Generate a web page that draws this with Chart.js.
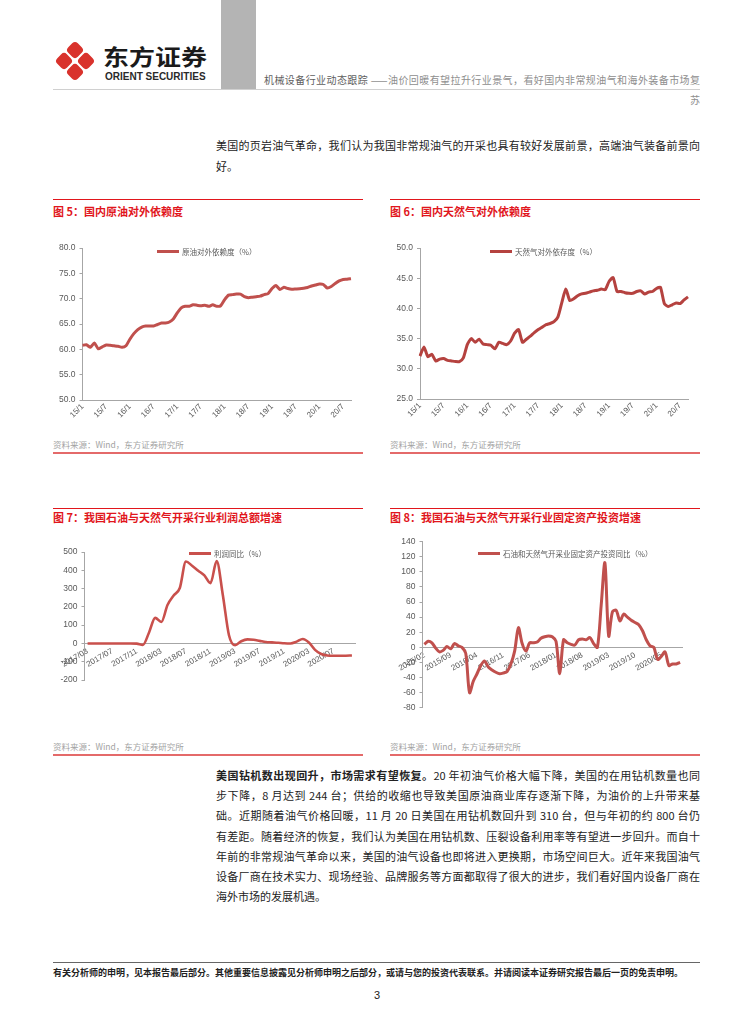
<!DOCTYPE html>
<html>
<head>
<meta charset="utf-8">
<script src="https://cdn.jsdelivr.net/npm/chart.js@4.4.1/dist/chart.umd.min.js"></script>
<style>
html,body{margin:0;padding:0;background:#fff;}
#page{position:relative;width:754px;height:1024px;overflow:hidden;font-family:"Noto Sans CJK SC","Noto Sans",sans-serif;color:#222;}
.abs{position:absolute;}
.pl{position:absolute;left:216px;width:484px;font-size:11px;line-height:20.2px;height:20.2px;text-align:justify;text-align-last:justify;color:#222;}
.pl.last{text-align-last:left;}
.ftitle{position:absolute;font-size:11px;line-height:14px;font-weight:bold;color:#e1161c;white-space:nowrap;}
.tline{position:absolute;height:1px;background:#e1161c;width:310px;}
.src{position:absolute;font-size:8.5px;line-height:12px;color:#a3a3a3;white-space:nowrap;}
.sline{position:absolute;height:1.5px;background:#e46a6a;width:310px;}
.legend{position:absolute;font-size:7.5px;line-height:10px;color:#595959;white-space:nowrap;}
.legend i{display:inline-block;width:22px;height:3px;vertical-align:middle;margin-right:3px;margin-top:-2px;}
canvas{position:absolute;}
</style>
</head>
<body>
<div id="page">
  <!-- header -->
  <div class="abs" style="left:221px;top:0;width:35px;height:89px;background:#b4b4b4;"></div>
  <div class="abs" style="left:53px;top:89px;width:647px;height:1px;background:#d0d0d0;"></div>
  <svg class="abs" style="left:53px;top:39px" width="44" height="44" viewBox="0 0 44 44">
    <g transform="rotate(45 22 22)" fill="#d9322c">
      <rect x="7.5" y="7.5" width="13.5" height="13.5" rx="4"/>
      <rect x="23" y="7.5" width="13.5" height="13.5" rx="4"/>
      <rect x="7.5" y="23" width="13.5" height="13.5" rx="4"/>
      <rect x="23" y="23" width="13.5" height="13.5" rx="4"/>
    </g>
  </svg>
  <div class="abs" style="left:103px;top:42px;font-size:22px;line-height:26px;font-weight:bold;color:#1a1a1a;white-space:nowrap;transform:scale(1.18,1);transform-origin:0 0;">东方证券</div>
  <div class="abs" style="left:105px;top:71px;font-family:'Liberation Sans',Arial,sans-serif;font-size:10px;line-height:12px;font-weight:bold;color:#2a2a2a;white-space:nowrap;">ORIENT SECURITIES</div>
  <div class="abs" style="left:264px;top:73px;width:436px;font-size:10px;line-height:14px;color:#8e8e8e;text-align:justify;text-align-last:justify;"><span style="color:#5e5e5e">机械设备行业动态跟踪</span> ——油价回暖有望拉升行业景气，看好国内非常规油气和海外装备市场复</div>
  <div class="abs" style="left:680px;top:93px;width:20px;text-align:right;font-size:10px;line-height:14px;color:#8e8e8e;">苏</div>

  <!-- top paragraph -->
  <div class="pl" style="top:134.5px;line-height:21px;height:21px;">美国的页岩油气革命，我们认为我国非常规油气的开采也具有较好发展前景，高端油气装备前景向</div>
  <div class="pl last" style="top:155.5px;line-height:21px;height:21px;">好。</div>

  <!-- figure 5 / 6 titles -->
  <div class="tline" style="left:53px;top:199px;"></div>
  <div class="tline" style="left:390px;top:199px;"></div>
  <div class="ftitle" style="left:53px;top:204px;">图 5：国内原油对外依赖度</div>
  <div class="ftitle" style="left:390px;top:204px;">图 6：国内天然气对外依赖度</div>

  <canvas id="c5" width="320" height="190" style="left:40px;top:236px;width:320px;height:190px;"></canvas>
  <canvas id="c6" width="320" height="190" style="left:385px;top:236px;width:320px;height:190px;"></canvas>
  <div class="legend" id="lg5" style="left:157px;top:247px;"></div>
  <div class="legend" id="lg6" style="left:490px;top:247px;"></div>

  <div class="src" style="left:53px;top:438px;">资料来源：Wind，东方证券研究所</div>
  <div class="src" style="left:390px;top:438px;">资料来源：Wind，东方证券研究所</div>
  <div class="sline" style="left:53px;top:452px;"></div>
  <div class="sline" style="left:390px;top:452px;"></div>

  <!-- figure 7 / 8 titles -->
  <div class="tline" style="left:53px;top:508px;"></div>
  <div class="tline" style="left:390px;top:508px;"></div>
  <div class="ftitle" style="left:53px;top:510px;">图 7：我国石油与天然气开采行业利润总额增速</div>
  <div class="ftitle" style="left:390px;top:510px;">图 8：我国石油与天然气开采行业固定资产投资增速</div>

  <canvas id="c7" width="320" height="160" style="left:40px;top:540px;width:320px;height:160px;"></canvas>
  <canvas id="c8" width="320" height="190" style="left:385px;top:530px;width:320px;height:190px;"></canvas>
  <div class="legend" id="lg7" style="left:189px;top:549px;"></div>
  <div class="legend" id="lg8" style="left:478px;top:549px;"></div>

  <div class="src" style="left:53px;top:740px;">资料来源：Wind，东方证券研究所</div>
  <div class="src" style="left:390px;top:740px;">资料来源：Wind，东方证券研究所</div>
  <div class="sline" style="left:53px;top:754px;"></div>
  <div class="sline" style="left:390px;top:754px;"></div>

  <!-- body paragraph -->
  <div class="pl" style="top:765px;"><b>美国钻机数出现回升，市场需求有望恢复。</b>20 年初油气价格大幅下降，美国的在用钻机数量也同</div>
  <div class="pl" style="top:785.2px;">步下降，8 月达到 244 台；供给的收缩也导致美国原油商业库存逐渐下降，为油价的上升带来基</div>
  <div class="pl" style="top:805.4px;">础。近期随着油气价格回暖，11 月 20 日美国在用钻机数回升到 310 台，但与年初的约 800 台仍</div>
  <div class="pl" style="top:825.6px;">有差距。随着经济的恢复，我们认为美国在用钻机数、压裂设备利用率等有望进一步回升。而自十</div>
  <div class="pl" style="top:845.8px;">年前的非常规油气革命以来，美国的油气设备也即将进入更换期，市场空间巨大。近年来我国油气</div>
  <div class="pl" style="top:866px;">设备厂商在技术实力、现场经验、品牌服务等方面都取得了很大的进步，我们看好国内设备厂商在</div>
  <div class="pl last" style="top:886.2px;">海外市场的发展机遇。</div>

  <!-- footer -->
  <div class="abs" style="left:53px;top:962px;width:647px;height:1px;background:#666;"></div>
  <div class="abs" style="left:53px;top:967px;font-size:9px;line-height:12px;font-weight:bold;color:#222;white-space:nowrap;">有关分析师的申明，见本报告最后部分。其他重要信息披露见分析师申明之后部分，或请与您的投资代表联系。并请阅读本证券研究报告最后一页的免责申明。</div>
  <div class="abs" style="left:0;top:988px;width:754px;text-align:center;font-family:'Liberation Sans',Arial,sans-serif;font-size:11px;line-height:14px;color:#222;">3</div>
</div>

<script>
// ---------- data ----------
function monthLabels(startYear, startMonth, count, shortYear) {
  const out = [];
  let y = startYear, m = startMonth;
  for (let i = 0; i < count; i++) {
    out.push(shortYear ? String(y).slice(2) + '/' + m : y + '/' + String(m).padStart(2, '0'));
    m++; if (m > 12) { m = 1; y++; }
  }
  return out;
}

// Figure 5: crude oil import dependence (%), 2015/1 - 2020/9
const oilCategories = monthLabels(2015, 1, 69, true);
const oilTickLabels = ['15/1','15/7','16/1','16/7','17/1','17/7','18/1','18/7','19/1','19/7','20/1','20/7'];
const oilName = '原油对外依赖度（%）';
const oilValues = [
  60.8,60.9,60.4,61.25,60.1,60.5,60.85,60.8,60.7,60.6,60.4,60.7,
  62.0,63.1,63.9,64.4,64.6,64.6,64.6,64.9,65.2,65.2,65.4,66.0,
  67.2,68.2,68.5,68.5,68.8,68.7,68.6,68.7,68.5,68.8,68.5,68.6,
  69.8,70.7,70.8,70.9,70.9,70.4,70.2,70.3,70.4,70.5,70.8,71.0,
  72.0,72.6,71.8,72.25,72.0,71.85,71.9,71.95,72.05,72.2,72.5,72.7,
  72.9,72.8,72.1,72.4,73.0,73.5,73.8,73.85,73.95
];

// Figure 6: natural gas import dependence (%), 2015/1 - 2020/9
const gasCategories = monthLabels(2015, 1, 69, true);
const gasTickLabels = ['15/1','15/7','16/1','16/7','17/1','17/7','18/1','18/7','19/1','19/7','20/1','20/7'];
const gasName = '天然气对外依存度（%）';
const gasValues = [
  32.1,33.6,32.0,32.4,31.3,31.6,31.7,31.4,31.3,31.2,31.2,31.8,
  34.0,35.0,34.4,34.9,34.1,34.0,33.9,33.3,34.4,34.2,34.0,34.6,
  35.9,36.5,34.4,34.9,35.4,36.0,36.5,36.9,37.3,37.5,37.8,38.6,
  41.0,43.2,41.3,41.6,42.1,42.4,42.5,42.7,42.9,43.0,43.2,43.1,
  44.5,45.1,42.8,42.8,42.6,42.5,42.5,42.8,42.9,42.4,42.7,42.8,
  43.3,43.5,40.8,40.3,40.6,40.9,40.8,41.4,41.9
];

// Figure 7: profit growth YoY (%), 2017/03 - 2020/10
const profitCategories = monthLabels(2017, 3, 44, false);
const profitTickLabels = ['2017/03','2017/07','2017/11','2018/03','2018/07','2018/11','2019/03','2019/07','2019/11','2020/03','2020/07'];
const profitName = '利润同比（%）';
const profitValues = [
  0,0,0,0,0,0,0,0,-1,-8,60,140,
  117,210,262,303,448,425,398,372,330,450,265,45,
  -10,12,22,20,14,8,6,4,1,0,10,24,
  5,-35,-58,-66,-67,-67,-67,-66
];

// Figure 8: fixed-asset investment growth YoY (%), 2015/02 - 2020/10
const investCategories = monthLabels(2015, 2, 69, false);
const investTickLabels = ['2015/02','2015/09','2016/04','2016/11','2017/06','2018/01','2018/08','2019/03','2019/10','2020/05'];
const investName = '石油和天然气开采业固定资产投资同比（%）';
const investValues = [
  4,8,6,-1,-6,-4,1,-2,5,2,0,-8,
  -60,-45,-35,-24,-18,-26,-30,-33,-35,-34,-32,-22,
  -5,26,5,-5,6,6,7,12,14,15,14,8,
  -35,10,6,4,3,10,11,10,13,5,0,55,
  112,15,47,49,35,44,40,36,33,30,22,10,
  2,0,-16,-12,-6,-24,-22,-22,-20
];

// ---------- drawing ----------
const NUM_FONT = '"Liberation Sans", Arial, sans-serif';
const TICK_GRAY = '#595959';
const AXIS_GRAY = '#a6a6a6';

function legendHtml(id, name, color) {
  const el = document.getElementById(id);
  el.innerHTML = '<i style="background:' + color + '"></i>' + name;
}

function lineChart(id, cfg) {
  return new Chart(document.getElementById(id), {
    type: 'line',
    data: {
      labels: cfg.labels,
      datasets: [{
        label: cfg.name,
        data: cfg.values,
        borderColor: cfg.color,
        borderWidth: cfg.lw || 3,
        pointRadius: 0,
        fill: false,
        tension: cfg.tension,
        cubicInterpolationMode: cfg.mono ? 'monotone' : 'default'
      }]
    },
    options: {
      responsive: false,
      animation: false,
      layout: { padding: cfg.pad },
      plugins: { legend: { display: false }, tooltip: { enabled: false } },
      scales: {
        x: {
          type: 'category',
          offset: cfg.offset,
          position: cfg.zeroAxis ? { y: 0 } : 'bottom',
          grid: { display: false, drawTicks: false },
          border: { display: true, color: AXIS_GRAY, width: 1 },
          afterFit: function (s) { if (!cfg.zeroAxis) s.height = cfg.xh; },
          ticks: {
            autoSkip: false,
            maxRotation: cfg.rot, minRotation: cfg.rot,
            padding: cfg.xpad,
            color: TICK_GRAY,
            font: { family: NUM_FONT, size: 8 },
            callback: function (v) {
              const lab = this.getLabelForValue(v);
              return cfg.tickLabels.includes(lab) ? lab : '';
            }
          }
        },
        y: {
          min: cfg.min, max: cfg.max,
          ticks: {
            stepSize: cfg.step,
            color: TICK_GRAY,
            padding: 4,
            font: { family: NUM_FONT, size: 8.5 },
            callback: function (v) { return cfg.dec ? Number(v).toFixed(1) : String(v); }
          },
          grid: { display: true, drawOnChartArea: false, drawTicks: true, tickLength: 3, color: AXIS_GRAY },
          border: { display: true, color: AXIS_GRAY, width: 1 },
          afterFit: function (s) { s.width = cfg.yw; }
        }
      }
    }
  });
}

lineChart('c5', {
  labels: oilCategories, values: oilValues, name: oilName, tickLabels: oilTickLabels,
  color: '#c0504d', tension: 0.2, offset: false, rot: 45, xpad: 2,
  min: 50, max: 80, step: 5, dec: true,
  pad: { left: 0, top: 12, right: 9, bottom: 0 }, yw: 42.5, xh: 26
});
legendHtml('lg5', oilName, '#c0504d');

lineChart('c6', {
  labels: gasCategories, values: gasValues, name: gasName, tickLabels: gasTickLabels,
  color: '#b5423f', tension: 0.2, offset: false, rot: 45, xpad: 2,
  min: 25, max: 50, step: 5, dec: true,
  pad: { left: 0, top: 12, right: 17, bottom: 0 }, yw: 35, xh: 27
});
legendHtml('lg6', gasName, '#b5423f');

lineChart('c7', {
  labels: profitCategories, values: profitValues, name: profitName, tickLabels: profitTickLabels,
  color: '#c9504c', tension: 0.4, mono: true, offset: true, zeroAxis: true, rot: 30, xpad: 3, lw: 2.6,
  min: -200, max: 500, step: 100, dec: false,
  pad: { left: 0, top: 12, right: 5, bottom: 20 }, yw: 44.5
});
legendHtml('lg7', profitName, '#c9504c');

lineChart('c8', {
  labels: investCategories, values: investValues, name: investName, tickLabels: investTickLabels,
  color: '#c0504d', tension: 0.3, offset: true, zeroAxis: true, rot: 30, xpad: 3,
  min: -80, max: 140, step: 20, dec: false,
  pad: { left: 0, top: 11.7, right: 23, bottom: 12.3 }, yw: 37.5
});
legendHtml('lg8', investName, '#c0504d');
</script>
</body>
</html>
